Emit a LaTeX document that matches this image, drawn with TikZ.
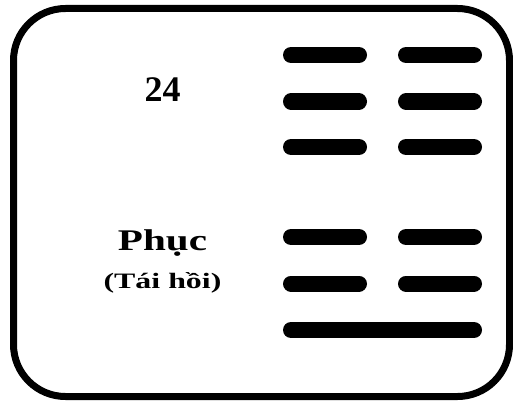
\documentclass[tikz,border=0pt]{standalone}
\usepackage{fontspec}
\setmainfont{Liberation Serif}
\begin{document}
\begin{tikzpicture}[x=1pt,y=-1pt,
  yao/.style={line width=16pt,line cap=round},
  lbl/.style={anchor=base,inner sep=0pt,font=\bfseries}]
\useasboundingbox (0,0) rectangle (513,401);
\draw[line width=7pt,rounded corners=52pt] (13.5,8.5) rectangle (509.5,396.5);
\node[lbl,font=\bfseries\fontsize{36}{40}\selectfont] (num) at (162.5,102) {24};
\node[lbl,font=\bfseries\fontsize{30}{34}\selectfont,xscale=1.37] (name) at (162.5,250) {Phục};
\node[lbl,font=\bfseries\fontsize{22}{26}\selectfont,xscale=1.45] (sub) at (162.5,288) {(Tái hồi)};
\foreach \y in {55,101.5,147,237,283.5}{
  \draw[yao] (291,\y) -- (359,\y);
  \draw[yao] (406,\y) -- (474,\y);
}
\draw[yao] (291,330) -- (474,330);
\end{tikzpicture}
\end{document}
